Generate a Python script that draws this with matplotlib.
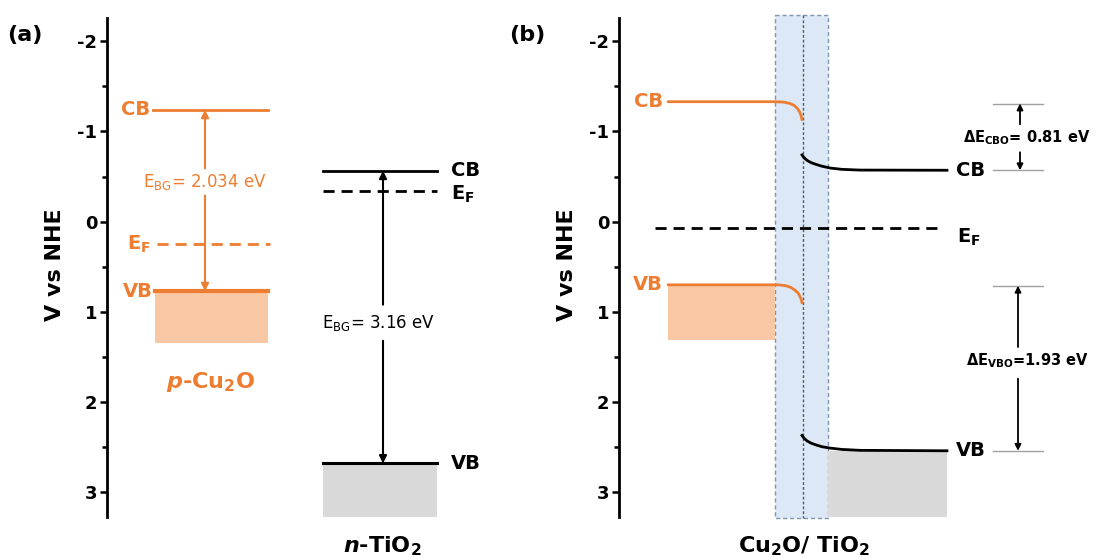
"""
Diagrama de bandas Cu2O / TiO2: (a) materiales separados, (b) heterounion
"""

import numpy as np
import matplotlib
matplotlib.use('Agg')
import matplotlib.pyplot as plt
from matplotlib.patches import Rectangle

plt.rcParams['font.family'] = ['DejaVu Sans']
plt.rcParams['mathtext.fontset'] = 'custom'
plt.rcParams['mathtext.rm'] = 'DejaVu Sans'
plt.rcParams['mathtext.it'] = 'DejaVu Sans:italic:bold'
plt.rcParams['mathtext.bf'] = 'DejaVu Sans:bold'
plt.rcParams['mathtext.default'] = 'regular'
plt.rcParams['axes.unicode_minus'] = False

ORANGE = '#ED7D31'
PEACH = '#F8C8A4'
GRAY = '#D9D9D9'
BLUE = '#DCE8F5'
BLUE_EDGE = '#7F95B0'

# ---- datos (V vs NHE) ----
y_ticks = [-2, -1, 0, 1, 2, 3]
y_ticklabels = ['-2', '-1', '0', '1', '2', '3']
y_minor = [-1.5, -0.5, 0.5, 1.5, 2.5]
y_lim = (3.274, -2.258)

# (a) Cu2O y TiO2 por separado
cu2o_levels_a = [-1.24, 0.25, 0.77]      # CB, EF, VB
cu2o_fill_a = 1.35
tio2_levels_a = [-0.565, -0.34, 2.68]    # CB, EF, VB
eg_labels = ['E$_{BG}$= 2.034 eV', 'E$_{BG}$= 3.16 eV']

# (b) heterounion: curvatura de bandas
cu2o_cb_x = [668, 775, 784, 790, 794, 797, 799.5, 801, 802]
cu2o_cb_b = [-1.33, -1.33, -1.325, -1.31, -1.29, -1.26, -1.22, -1.18, -1.13]
cu2o_vb_x = [668, 778, 786, 791, 795, 798, 800, 801.5, 802]
cu2o_vb_b = [0.70, 0.70, 0.71, 0.73, 0.76, 0.79, 0.83, 0.87, 0.90]
cu2o_fill_b = 1.31
tio2_x = [802, 804, 807, 811, 816, 822, 830, 842, 860, 947]
tio2_cb_b = [-0.74, -0.71, -0.68, -0.655, -0.635, -0.615, -0.595, -0.58, -0.572, -0.57]
tio2_vb_b = [2.37, 2.40, 2.43, 2.455, 2.475, 2.495, 2.51, 2.525, 2.535, 2.54]
ef_b = 0.07
cbo_levels = [-1.31, -0.57]
vbo_levels = [0.71, 2.54]
offset_labels = ['ΔE$_{CBO}$= 0.81 eV', 'ΔE$_{VBO}$=1.93 eV']

# ---- figura ----
W, H = 1095, 558
fig = plt.figure(figsize=(W / 100, H / 100), dpi=100)
ax_bottom = 1 - 517 / H
ax_height = (517 - 18) / H
ax_a = fig.add_axes([107 / W, ax_bottom, (560 - 107) / W, ax_height])
ax_b = fig.add_axes([619 / W, ax_bottom, (W - 619) / W, ax_height])
ax_a.set_xlim(107, 560)
ax_b.set_xlim(619, W)


def preparar_eje(ax):
    ax.set_ylim(*y_lim)
    ax.set_yticks(y_ticks)
    ax.set_yticklabels(y_ticklabels, fontsize=13, fontweight='bold')
    ax.set_yticks(y_minor, minor=True)
    ax.tick_params(axis='y', which='major', length=5, width=1.8, pad=2)
    ax.tick_params(axis='y', which='minor', length=3.5, width=1.8)
    ax.set_xticks([])
    for s in ['top', 'right', 'bottom']:
        ax.spines[s].set_visible(False)
    ax.spines['left'].set_linewidth(2)
    ax.patch.set_alpha(0)


preparar_eje(ax_a)
preparar_eje(ax_b)

lab = dict(fontsize=14, fontweight='bold', va='center')

# ---------- (a) ----------
cb, ef, vb = cu2o_levels_a
ax_a.fill_between([155, 268], vb, cu2o_fill_a, color=PEACH, lw=0)
ax_a.plot([153, 268], [cb, cb], color=ORANGE, lw=2)
ax_a.plot([157, 270], [ef, ef], color=ORANGE, lw=2, ls=(0, (4, 2.5)))
ax_a.plot([155, 268], [vb, vb], color=ORANGE, lw=3)
ax_a.text(150, cb, 'CB', ha='right', color=ORANGE, **lab)
ax_a.text(151, ef, 'E$_F$', ha='right', color=ORANGE, **lab)
ax_a.text(153, vb, 'VB', ha='right', color=ORANGE, **lab)
eg_y = -0.44
arr = dict(arrowstyle='-|>', lw=1.5, mutation_scale=11, shrinkA=0, shrinkB=0)
ax_a.annotate('', xy=(205, cb), xytext=(205, eg_y - 0.15),
              arrowprops=dict(color=ORANGE, **arr))
ax_a.annotate('', xy=(205, vb), xytext=(205, eg_y + 0.15),
              arrowprops=dict(color=ORANGE, **arr))
ax_a.text(205, eg_y, eg_labels[0], ha='center', va='center',
          fontsize=12, color=ORANGE)
ax_a.text(211, 1.78, '$\\mathit{p}$-Cu$_2$O', ha='center', va='center',
          fontsize=16, fontweight='bold', color=ORANGE)

cb, ef, vb = tio2_levels_a
ax_a.fill_between([323, 437], vb, y_lim[0], color=GRAY, lw=0)
ax_a.plot([323, 437], [cb, cb], color='black', lw=2)
ax_a.plot([323, 437], [ef, ef], color='black', lw=2, ls=(0, (4, 2.5)))
ax_a.plot([323, 437], [vb, vb], color='black', lw=2.2)
ax_a.text(451, cb, 'CB', ha='left', color='black', **lab)
ax_a.text(451, ef + 0.04, 'E$_F$', ha='left', color='black', **lab)
ax_a.text(451, vb, 'VB', ha='left', color='black', **lab)
eg_y = 1.12
ax_a.annotate('', xy=(383, cb), xytext=(383, eg_y - 0.2),
              arrowprops=dict(color='black', **arr))
ax_a.annotate('', xy=(383, vb), xytext=(383, eg_y + 0.2),
              arrowprops=dict(color='black', **arr))
ax_a.text(379, eg_y, eg_labels[1], ha='center', va='center',
          fontsize=12, color='black')
ax_a.text(382, 3.6, '$\\mathit{n}$-TiO$_2$', ha='center', va='center',
          fontsize=16, fontweight='bold', color='black')

# ---------- (b) ----------
box_top, box_bot = -2.29, 3.285
ax_b.add_patch(Rectangle((775, box_top), 828 - 775, box_bot - box_top,
                         facecolor=BLUE, edgecolor=BLUE_EDGE, lw=1,
                         ls=(0, (3, 2)), clip_on=False, zorder=1))
ax_b.plot([802.5, 802.5], [box_top, box_bot], color='#4A5A70', lw=1,
          ls=(0, (2, 1.5)), clip_on=False, zorder=2)

ax_b.fill_between([668, 775], cu2o_vb_b[0], cu2o_fill_b, color=PEACH, lw=0)
ax_b.fill_between([828, 947], tio2_vb_b[-1], y_lim[0], color=GRAY, lw=0)
ax_b.plot(cu2o_cb_x, cu2o_cb_b, color=ORANGE, lw=2, solid_capstyle='round',
          solid_joinstyle='round', zorder=3)
ax_b.plot(cu2o_vb_x, cu2o_vb_b, color=ORANGE, lw=2, solid_capstyle='round',
          solid_joinstyle='round', zorder=3)
ax_b.plot(tio2_x, tio2_cb_b, color='black', lw=2, solid_joinstyle='round', zorder=3)
ax_b.plot(tio2_x, tio2_vb_b, color='black', lw=2, solid_joinstyle='round', zorder=3)
ax_b.plot([655, 940], [ef_b, ef_b], color='black', lw=2, ls=(0, (4, 2.5)), zorder=3)

ax_b.text(663, cu2o_cb_b[0], 'CB', ha='right', color=ORANGE, **lab)
ax_b.text(663, cu2o_vb_b[0], 'VB', ha='right', color=ORANGE, **lab)
ax_b.text(956, tio2_cb_b[-1], 'CB', ha='left', color='black', **lab)
ax_b.text(957, ef_b + 0.1, 'E$_F$', ha='left', color='black', **lab)
ax_b.text(956, tio2_vb_b[-1], 'VB', ha='left', color='black', **lab)

# desplazamientos de banda
for lv in cbo_levels + vbo_levels:
    ax_b.plot([993, 1043], [lv, lv], color='#A0A0A0', lw=1)
arr2 = dict(arrowstyle='-|>', lw=1.3, mutation_scale=9, shrinkA=0, shrinkB=0,
            color='black')
cbo_y = np.mean(cbo_levels)
ax_b.annotate('', xy=(1020, cbo_levels[0]), xytext=(1020, cbo_y - 0.14),
              arrowprops=arr2)
ax_b.annotate('', xy=(1020, cbo_levels[1]), xytext=(1020, cbo_y + 0.17),
              arrowprops=arr2)
ax_b.text(1027, cbo_y + 0.01, offset_labels[0], ha='center', va='center',
          fontsize=10.5, fontweight='bold')
vbo_y = 1.54
ax_b.annotate('', xy=(1018, vbo_levels[0]), xytext=(1018, vbo_y - 0.15),
              arrowprops=arr2)
ax_b.annotate('', xy=(1018, vbo_levels[1]), xytext=(1018, vbo_y + 0.2),
              arrowprops=arr2)
ax_b.text(1027, vbo_y, offset_labels[1], ha='center', va='center',
          fontsize=10.5, fontweight='bold')

ax_b.text(804, 3.6, 'Cu$_2$O/ TiO$_2$', ha='center', va='center',
          fontsize=16, fontweight='bold')

# etiquetas de eje y de panel
for xp, txt in [(55, '(a)'), (557, '(b)')]:
    fig.text((xp - 30) / W, 1 - 35 / H, txt, fontsize=16, fontweight='bold',
             ha='center', va='center')
for xp in [55, 567]:
    fig.text(xp / W, 1 - 265 / H, 'V vs NHE', rotation=90, fontsize=16,
             fontweight='bold', ha='center', va='center')

plt.savefig('out.png', dpi=100)
plt.close()
